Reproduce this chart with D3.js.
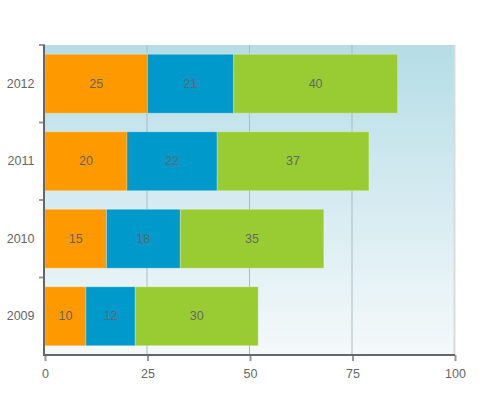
<!DOCTYPE html>
<html><head><meta charset="utf-8">
<script src="https://cdn.jsdelivr.net/npm/d3@7/dist/d3.min.js"></script>
<style>body{margin:0;background:#fff}svg{display:block}</style>
</head><body>
<svg id="c" width="500" height="400"></svg>
<script>
const categories = ["2009", "2010", "2011", "2012"];
const seriesA = [10, 15, 20, 25];
const seriesB = [12, 18, 22, 21];
const seriesC = [30, 35, 37, 40];
const xTicks = [0, 25, 50, 75, 100];
const seriesColors = ["#ff9900", "#0099cc", "#99cc33"];

const svg = d3.select("#c");
const L = 45, R = 455, T = 45, B = 355;
const x = d3.scaleLinear().domain([0, 100]).range([L, R]);
const y = d3.scaleBand().domain(categories.slice().reverse()).range([T, B]).paddingInner(0.24).paddingOuter(0.12);
const FONT = "Liberation Sans, Arial, sans-serif";

const defs = svg.append("defs");
const g = defs.append("linearGradient").attr("id", "bg").attr("x1", 0).attr("y1", 0).attr("x2", 0).attr("y2", 1);
g.append("stop").attr("offset", "0%").attr("stop-color", "#b5dde6");
g.append("stop").attr("offset", "100%").attr("stop-color", "#f5f9fb");
svg.append("rect").attr("x", L).attr("y", T).attr("width", R - L).attr("height", B - T).attr("fill", "url(#bg)");

// grid
svg.append("g").selectAll("line").data(xTicks.slice(1)).join("line")
  .attr("x1", d => x(d) - 0.5).attr("x2", d => x(d) - 0.5).attr("y1", T).attr("y2", B)
  .attr("stroke", d => d === 100 ? "#d8dcdd" : "#a9bcc2").attr("stroke-width", d => d === 100 ? 2 : 1);

// stacked bars
const table = categories.map((c, i) => ({cat: c, a: seriesA[i], b: seriesB[i], c: seriesC[i]}));
const stack = d3.stack().keys(["a", "b", "c"])(table);
stack.forEach((layer, li) => {
  const gg = svg.append("g");
  gg.selectAll("rect").data(layer).join("rect")
    .attr("x", d => x(d[0])).attr("y", d => y(d.data.cat))
    .attr("width", d => x(d[1]) - x(d[0])).attr("height", y.bandwidth())
    .attr("fill", seriesColors[li])
    .attr("stroke", "rgba(255,255,255,0.25)").attr("stroke-width", 1);
  gg.selectAll("text").data(layer).join("text")
    .attr("x", d => (x(d[0]) + x(d[1])) / 2).attr("y", d => y(d.data.cat) + y.bandwidth() / 2)
    .attr("text-anchor", "middle").attr("dominant-baseline", "central")
    .attr("font-family", FONT).attr("font-size", 12.5)
    .attr("fill", "#666").text(d => d[1] - d[0]);
});

// x axis
const xa = svg.append("g").attr("transform", `translate(0,${B})`)
  .call(d3.axisBottom(x).tickValues(xTicks).tickSize(6).tickSizeOuter(0).tickPadding(8));
xa.select(".domain").remove();
xa.selectAll(".tick line").attr("stroke", "#999").attr("stroke-width", 2);
xa.selectAll("text").attr("font-family", FONT).attr("font-size", 12.5).attr("fill", "#666");
svg.append("line").attr("x1", L - 2).attr("x2", R).attr("y1", B).attr("y2", B).attr("stroke", "#666").attr("stroke-width", 2);

// y axis
const bounds = [T, ...categories.map(c => y(c) - y.step() * y.paddingInner() / 2)].filter(v => v > T + 1);
svg.append("g").selectAll("line").data([T].concat(bounds)).join("line")
  .attr("x1", L - 6).attr("x2", L).attr("y1", d => d).attr("y2", d => d)
  .attr("stroke", "#999").attr("stroke-width", 2);
svg.append("g").selectAll("text").data(categories).join("text")
  .attr("x", L - 10.5).attr("y", d => y(d) + y.bandwidth() / 2)
  .attr("text-anchor", "end").attr("dominant-baseline", "central")
  .attr("font-family", FONT).attr("font-size", 12.5).attr("fill", "#666")
  .text(d => d);
svg.append("line").attr("x1", L - 1).attr("x2", L - 1).attr("y1", T).attr("y2", B + 1).attr("stroke", "#666").attr("stroke-width", 2);
</script>
</body></html>
